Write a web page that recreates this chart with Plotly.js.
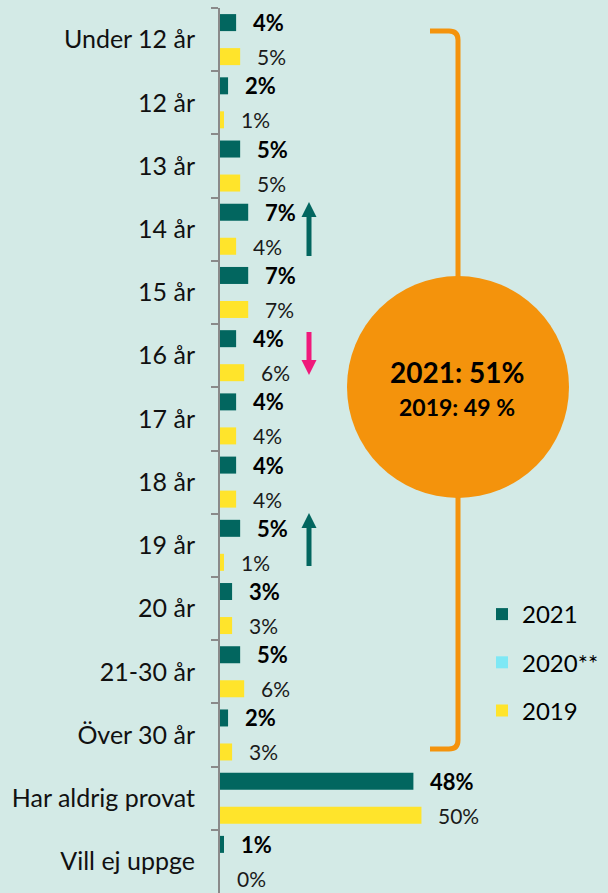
<!DOCTYPE html>
<html>
<head>
<meta charset="utf-8">
<script src="https://cdn.plot.ly/plotly-3.0.1.min.js"></script>
<style>html,body{margin:0;padding:0;background:#d3eae6;}#chart{width:608px;height:893px;}</style>
</head>
<body>
<div id="chart"></div>
<script>
// ---- data ----
const categories = ["Under 12 år","12 år","13 år","14 år","15 år","16 år","17 år","18 år","19 år","20 år","21-30 år","Över 30 år","Har aldrig provat","Vill ej uppge"];
const v2021 = [4,2,5,7,7,4,4,4,5,3,5,2,48,1];
const v2020 = [null,null,null,null,null,null,null,null,null,null,null,null,null,null];
const v2019 = [5,1,5,4,7,6,4,4,1,3,6,3,50,0];
const seriesNames = ["2021","2020**","2019"];
const summaryText = ["2021: 51%","2019: 49 %"];

// ---- layout helpers (pixel -> paper) ----
const W = 608, H = 893, ML = 220, MR = 0, MT = 8, MB = 0;
const PW = W - ML - MR, PH = H - MT - MB;
const X = px => (px - ML) / PW;
const Y = py => 1 - (py - MT) / PH;

const FONT = "Lato, 'Open Sans', sans-serif";
const teal = "#02665f", yellow = "#ffe42b", cyan = "#7ee8f5", orange = "#f4930c", pink = "#f0197b";
const barW = 0.269;

const traces = [
  {type:"bar", orientation:"h", name:seriesNames[0], y:categories, x:v2021, marker:{color:teal},
   width:barW, offset:-1.5*barW, legendgroup:"a", hoverinfo:"x+y"},
  {type:"bar", orientation:"h", name:seriesNames[1], y:categories, x:v2020, marker:{color:cyan},
   width:barW, offset:-0.5*barW, legendgroup:"b", hoverinfo:"x+y"},
  {type:"bar", orientation:"h", name:seriesNames[2], y:categories, x:v2019, marker:{color:yellow},
   width:barW, offset:0.5*barW, legendgroup:"c", hoverinfo:"x+y"}
];

const annotations = [];
categories.forEach((c, i) => {
  if (v2021[i] != null) annotations.push({x:v2021[i], y:i - barW, xref:"x", yref:"y", text:"<b>"+v2021[i]+"%</b>",
    showarrow:false, xanchor:"left", yanchor:"middle", xshift:15, font:{family:FONT, size:22, color:"#000"}});
  if (v2019[i] != null) annotations.push({x:v2019[i], y:i + barW, xref:"x", yref:"y", text:v2019[i]+"%",
    showarrow:false, xanchor:"left", yanchor:"middle", xshift:15, font:{family:FONT, size:21, color:"#1a1a1a"}});
});
annotations.push({x:X(457), y:Y(372), xref:"paper", yref:"paper", text:"<b>"+summaryText[0]+"</b>", showarrow:false,
  xanchor:"center", yanchor:"middle", font:{family:FONT, size:28, color:"#000"}});
annotations.push({x:X(457), y:Y(407), xref:"paper", yref:"paper", text:"<b>"+summaryText[1]+"</b>", showarrow:false,
  xanchor:"center", yanchor:"middle", font:{family:FONT, size:23, color:"#000"}});

function arrowShapes(cx, tip, base, tail, color) {
  return [
    {type:"line", xref:"paper", yref:"paper", x0:X(cx), x1:X(cx), y0:Y(tail), y1:Y(base), line:{color:color, width:5}},
    {type:"path", xref:"paper", yref:"paper", fillcolor:color, line:{width:0},
     path:`M ${X(cx-7.5)},${Y(base)} L ${X(cx+7.5)},${Y(base)} L ${X(cx)},${Y(tip)} Z`}
  ];
}

const bx = X(458), bl = X(430), r = 9;
const shapes = [
  {type:"path", xref:"paper", yref:"paper", line:{color:orange, width:5},
   path:`M ${bl},${Y(31)} L ${X(458-r)},${Y(31)} Q ${bx},${Y(31)} ${bx},${Y(31+r)} L ${bx},${Y(749-r)} Q ${bx},${Y(749)} ${X(458-r)},${Y(749)} L ${bl},${Y(749)}`},
  {type:"circle", xref:"paper", yref:"paper", x0:X(347), x1:X(569), y0:Y(276), y1:Y(498), fillcolor:orange, line:{width:0}},
  ...arrowShapes(309, 202, 217, 256, teal),
  ...arrowShapes(309, 375, 360, 332, pink),
  ...arrowShapes(309, 513, 528, 566, teal)
];

const layout = {
  width:W, height:H,
  margin:{l:ML, r:MR, t:MT, b:MB, pad:0},
  paper_bgcolor:"#d3eae6", plot_bgcolor:"#d3eae6",
  font:{family:FONT, color:"#000"},
  barmode:"group",
  xaxis:{range:[0, 96.3], visible:false, fixedrange:true},
  yaxis:{type:"category", range:[13.5, -0.5], tickson:"boundaries", ticks:"outside", ticklen:7, tickwidth:2,
         tickcolor:"#8a8a8a", showline:true, linecolor:"#8a8a8a", linewidth:2, showgrid:false, zeroline:false,
         ticklabelstandoff:18, tickfont:{family:FONT, size:25, color:"#111"}, fixedrange:true},
  showlegend:true,
  legend:{x:X(482), xanchor:"left", y:Y(592), yanchor:"top", bgcolor:"rgba(0,0,0,0)", tracegroupgap:14,
          font:{family:FONT, size:24, color:"#000"}, traceorder:"grouped"},
  shapes:shapes,
  annotations:annotations
};

Plotly.newPlot("chart", traces, layout, {displayModeBar:false, staticPlot:true});
</script>
</body>
</html>
